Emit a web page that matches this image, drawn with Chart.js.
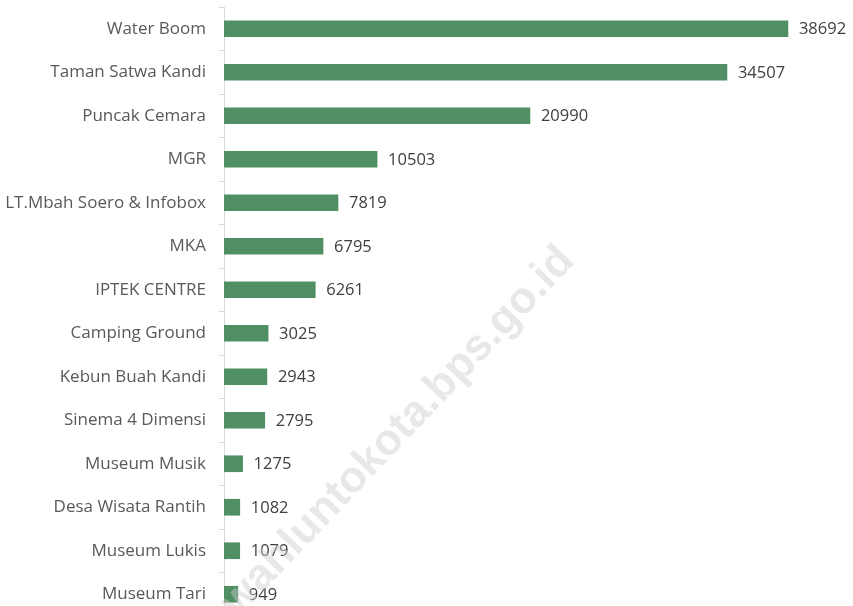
<!DOCTYPE html>
<html>
<head>
<meta charset="utf-8">
<script src="https://cdn.jsdelivr.net/npm/chart.js@4"></script>
<style>
	html, body { margin: 0; padding: 0; background: #fff; overflow: hidden; }
</style>
</head>
<body>
<canvas id="wisata-canvas" width="853" height="622"></canvas>
<script>
// objek wisata
const places = [
	'Water Boom',
	'Taman Satwa Kandi',
	'Puncak Cemara',
	'MGR',
	'LT.Mbah Soero & Infobox',
	'MKA',
	'IPTEK CENTRE',
	'Camping Ground',
	'Kebun Buah Kandi',
	'Sinema 4 Dimensi',
	'Museum Musik',
	'Desa Wisata Rantih',
	'Museum Lukis',
	'Museum Tari'
];
const visitors = [38692, 34507, 20990, 10503, 7819, 6795, 6261, 3025, 2943, 2795, 1275, 1082, 1079, 949];
const xMax = 40000;

const valueLabels = {
	id: 'valueLabels',
	afterDatasetsDraw(chart) {
		const ctx = chart.ctx;
		const meta = chart.getDatasetMeta(0);
		ctx.save();
		ctx.font = '16.5px "Open Sans"';
		ctx.fillStyle = '#404040';
		ctx.textAlign = 'left';
		ctx.textBaseline = 'middle';
		meta.data.forEach((bar, i) => {
			ctx.fillText(String(visitors[i]), bar.x + 11, bar.y + 1);
		});
		ctx.restore();
	}
};

const watermark = {
	id: 'watermark',
	afterDraw(chart) {
		const ctx = chart.ctx;
		ctx.save();
		ctx.translate(576, 262);
		ctx.rotate(-46.5 * Math.PI / 180);
		ctx.font = 'bold 44px "Liberation Sans"';
		ctx.fillStyle = 'rgba(205, 205, 205, 0.45)';
		ctx.textAlign = 'right';
		ctx.textBaseline = 'alphabetic';
		ctx.fillText('sawahluntokota.bps.go.id', 0, 0);
		ctx.restore();
	}
};

new Chart('wisata-canvas', {
	type: 'bar',
	data: {
		labels: places,
		datasets: [{
			data: visitors,
			backgroundColor: '#4f8f63',
			barThickness: 16
		}]
	},
	options: {
		indexAxis: 'y',
		responsive: false,
		animation: false,
		layout: {
			padding: { top: 7, right: 46, bottom: 6, left: 0 }
		},
		scales: {
			x: {
				display: false,
				min: 0,
				max: xMax
			},
			y: {
				afterFit: (scale) => {
					scale.width = 224;
					scale.paddingTop = 0;
					scale.paddingBottom = 0;
				},
				grid: {
					drawOnChartArea: false,
					drawTicks: true,
					tickLength: 5,
					color: '#d9d9d9'
				},
				border: {
					display: true,
					color: '#d9d9d9'
				},
				ticks: {
					padding: 13,
					color: '#595959',
					font: { family: 'Open Sans', size: 17 }
				}
			}
		},
		plugins: {
			legend: { display: false },
			tooltip: { enabled: false }
		}
	},
	plugins: [valueLabels, watermark]
});
</script>
</body>
</html>
